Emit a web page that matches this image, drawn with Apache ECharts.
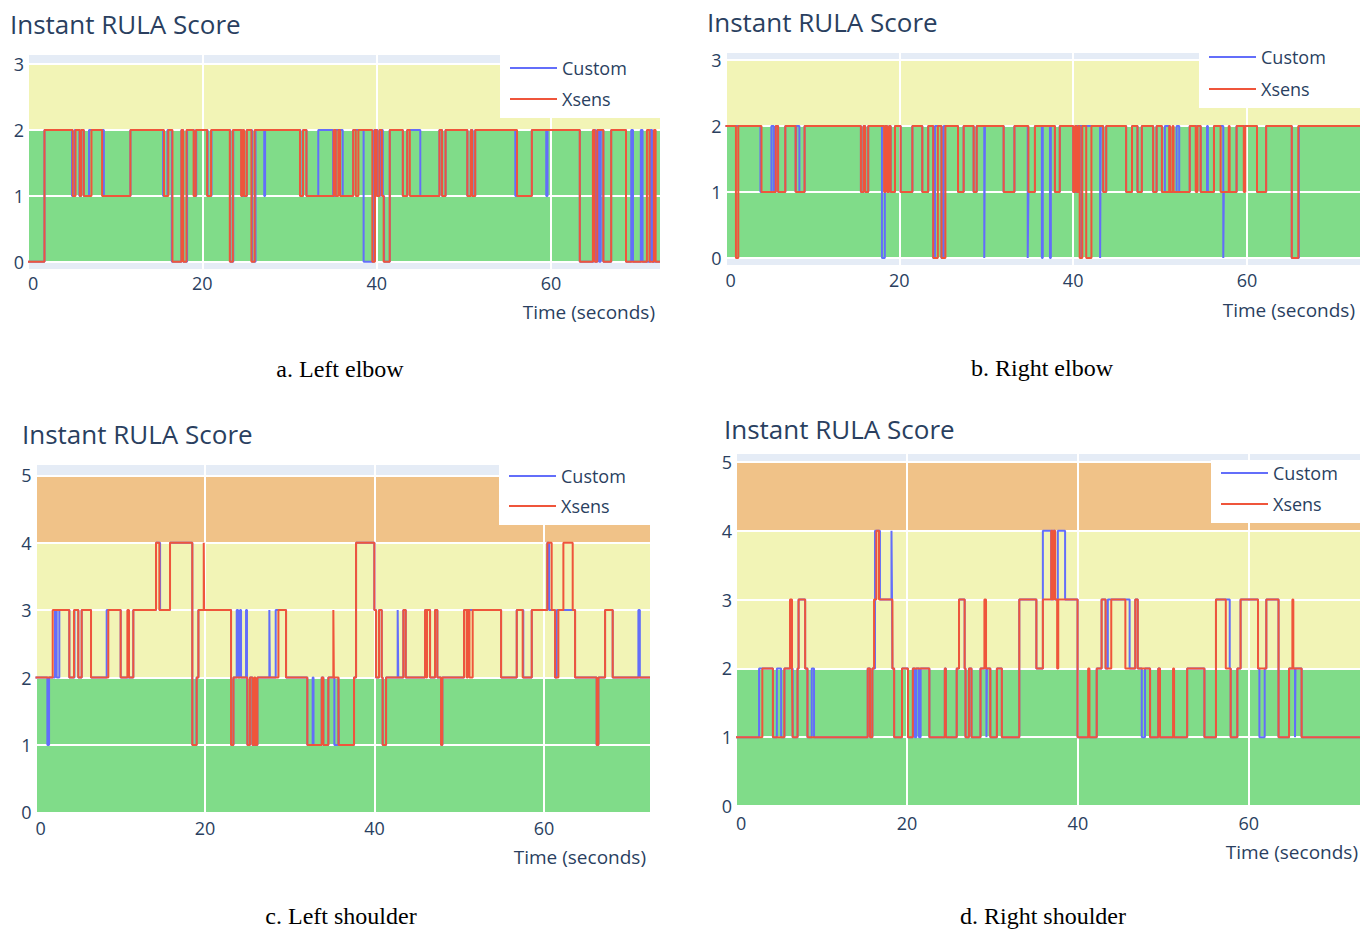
<!DOCTYPE html>
<html>
<head>
<meta charset="utf-8">
<title>Instant RULA Score</title>
<script src="https://cdn.jsdelivr.net/npm/echarts@6/dist/echarts.min.js"></script>
<style>
  html, body { margin: 0; padding: 0; background: #ffffff; }
  #chart { width: 1360px; height: 932px; }
</style>
</head>
<body>
<div id="chart"></div>
<script>
// ---- data (time in seconds, RULA score held until the next change) ----
const timeTicks = [0, 20, 40, 60];
const elbowTicks = [0, 1, 2, 3];
const shoulderTicks = [0, 1, 2, 3, 4, 5];

// risk zones: [low score, high score, zone index]
const elbowZones = [[0, 2, 0], [2, 3, 1]];
const shoulderZones = [[0, 2, 0], [2, 4, 1], [4, 5, 2]];

const seriesNames = ['Custom', 'Xsens'];
const captions = ['a. Left elbow', 'b. Right elbow', 'c. Left shoulder', 'd. Right shoulder'];

const leftElbowCustom = [[0,0],[1.89,2],[5.05,1],[5.35,2],[5.9,1],[6.1,2],[6.4,1],[7.0,2],[8.7,1],[11.75,2],
  [15.5,1],[16.0,2],[16.5,0],[17.6,2],[17.8,0],[18.25,2],[19.05,1],[19.3,2],[20.6,1],[21.05,2],[23.2,0],
  [23.55,2],[24.5,1],[25.1,2],[25.7,0],[26.1,2],[27.1,1],[27.2,2],[31.25,1],[31.55,2],[31.95,1],[33.3,2],
  [35.0,1],[35.3,2],[36.1,1],[37.3,2],[38.5,0],[39.7,2],[40.1,1],[40.4,2],[40.7,1],[40.85,0],[41.5,2],
  [43.0,1],[43.5,2],[45.0,1],[47.2,2],[47.5,1],[47.9,2],[50.4,1],[50.8,2],[51.0,1],[51.3,2],[55.9,1],
  [57.8,2],[59.45,1],[59.6,2],[63.3,0],[64.9,2],[65.1,0],[65.3,2],[65.5,0],[65.7,2],[66.0,0],[66.9,2],
  [68.6,0],[69.2,2],[69.4,0],[70.3,2],[70.5,0],[71.4,2],[71.6,0],[72.5,0]];
const leftElbowXsens = [[0,0],[1.89,2],[5.14,1],[5.45,2],[5.94,1],[6.1,2],[6.4,1],[7.28,2],[8.5,1],[11.75,2],
  [15.6,1],[16.1,2],[16.57,0],[17.6,2],[17.8,0],[18.18,2],[19.0,1],[19.25,2],[20.55,1],[21.0,2],[23.15,0],
  [23.5,2],[24.45,1],[24.6,2],[24.8,1],[25.1,2],[25.63,0],[26.0,2],[31.2,1],[31.55,2],[31.94,1],[35.07,2],
  [35.3,1],[35.6,2],[35.8,1],[37.3,2],[37.6,1],[37.9,2],[39.5,0],[39.8,2],[40.0,1],[40.3,2],[40.6,1],
  [40.8,0],[41.5,2],[43.0,1],[43.5,2],[43.8,1],[47.2,2],[47.5,1],[47.9,2],[50.4,1],[50.8,2],[50.95,1],
  [51.3,2],[56.1,1],[57.8,2],[63.3,0],[64.8,2],[65.0,0],[65.3,2],[66.0,0],[66.9,2],[68.6,0],[71.0,2],
  [71.3,0],[71.8,2],[72.0,0],[72.5,0]];

const rightElbowCustom = [[0,2],[4.02,1],[5.28,2],[5.55,1],[5.78,2],[6.05,1],[6.88,2],[8.07,1],[8.14,2],
  [8.5,1],[9.1,2],[15.58,1],[15.88,2],[16.07,1],[16.42,2],[18.0,0],[18.33,2],[18.6,1],[18.82,2],[19.0,1],
  [19.5,2],[20.15,1],[21.5,2],[22.64,1],[23.32,2],[23.9,0],[24.1,2],[24.85,0],[25.1,2],[26.75,1],[27.4,2],
  [28.55,1],[28.9,2],[29.77,0],[29.85,2],[32.0,1],[33.24,2],[34.77,0],[34.85,1],[35.6,2],[36.4,0],
  [36.5,2],[37.33,0],[37.43,2],[37.9,1],[38.46,2],[40.0,1],[40.4,2],[40.94,0],[41.02,2],[43.1,0],
  [43.17,2],[43.45,1],[43.8,2],[46.09,1],[46.77,2],[47.4,1],[47.9,2],[49.2,1],[49.6,2],[50.21,1],
  [50.55,2],[51.1,1],[51.9,2],[52.2,1],[53.41,2],[54.67,1],[55.4,2],[55.5,1],[56.2,2],[57.27,0],
  [57.33,1],[58.8,2],[61.15,1],[62.2,2],[65.15,0],[65.97,2],[73,2]];
const rightElbowXsens = [[0,2],[1.2,0],[1.47,2],[4.14,1],[5.78,2],[6.05,1],[6.88,2],[8.07,1],[9.1,2],
  [15.58,1],[15.88,2],[16.07,1],[16.42,2],[18.25,1],[18.4,2],[18.6,1],[18.82,2],[19.0,1],[19.5,2],
  [20.15,1],[21.5,2],[22.64,1],[23.32,2],[23.9,0],[24.43,2],[24.85,0],[25.3,2],[26.75,1],[27.4,2],
  [28.55,1],[28.9,2],[32.0,1],[33.24,2],[34.85,1],[35.6,2],[37.9,1],[38.46,2],[40.0,1],[40.2,2],
  [40.4,1],[40.6,2],[40.75,0],[41.05,2],[41.5,0],[42.1,2],[43.45,1],[43.8,2],[46.09,1],[46.77,2],
  [47.4,1],[47.9,2],[49.2,1],[49.6,2],[50.21,1],[51.05,2],[51.15,1],[51.43,2],[51.55,1],[53.41,2],
  [54.1,1],[54.3,2],[54.67,1],[56.2,2],[56.96,1],[57.9,2],[58.0,1],[58.8,2],[59.63,1],[59.8,2],
  [61.15,1],[62.2,2],[65.15,0],[65.9,2],[73,2]];

const leftShoulderCustom = [[0,2],[1.4,1],[1.6,2],[2.3,3],[2.5,2],[2.81,3],[3.99,2],[4.6,3],[5.05,2],
  [5.45,3],[6.55,2],[8.4,3],[10.05,2],[11.54,3],[14.22,4],[14.7,3],[15.87,4],[18.5,1],[19.0,2],[19.22,3],
  [23.07,1],[23.35,2],[23.74,3],[23.9,2],[24.13,3],[24.25,2],[24.84,3],[24.95,2],[25.0,1],[25.3,2],
  [25.6,1],[26.18,2],[27.59,3],[27.65,2],[28.34,3],[29.56,2],[32.07,1],[32.7,2],[32.8,1],[33.77,2],
  [33.96,1],[34.55,2],[35.26,1],[35.73,2],[35.8,1],[37.58,2],[37.82,4],[39.98,3],[40.18,2],[40.53,3],
  [40.85,2],[40.96,1],[41.36,2],[42.73,3],[42.8,2],[43.4,3],[43.68,2],[45.96,3],[46.55,2],[47.14,3],
  [47.41,2],[47.85,1],[48.0,2],[50.56,3],[54.93,2],[56.78,3],[57.55,2],[58.55,3],[60.39,4],[60.6,3],
  [61.3,2],[61.5,3],[63.66,2],[66.21,1],[66.41,2],[67.2,3],[68.1,2],[71.13,3],[71.3,2],[72.5,2]];
const leftShoulderXsens = [[0,2],[2.03,3],[3.99,2],[4.54,3],[5.05,2],[5.45,3],[6.55,2],[8.59,3],[10.05,2],
  [10.84,3],[11.03,2],[11.54,3],[14.22,4],[14.61,3],[15.87,4],[18.5,1],[19.02,2],[19.22,3],[19.85,4],
  [19.9,3],[23.07,1],[23.35,2],[25.0,1],[25.3,2],[25.6,1],[25.8,2],[25.95,1],[26.18,2],[28.66,3],
  [29.56,2],[32.07,1],[33.77,2],[33.96,1],[34.55,2],[35.14,3],[35.2,2],[35.75,1],[37.58,2],[37.82,4],
  [39.98,3],[40.18,2],[40.53,3],[40.85,2],[40.96,1],[41.36,2],[43.4,3],[43.68,2],[45.96,3],[46.1,2],
  [46.2,3],[46.55,2],[47.14,3],[47.41,2],[47.85,1],[48.0,2],[50.56,3],[50.87,2],[51.0,3],[51.2,2],
  [51.58,3],[54.93,2],[56.78,3],[57.48,2],[58.55,3],[60.39,4],[60.9,3],[61.3,2],[61.69,3],[62.28,4],
  [63.38,3],[63.66,2],[66.21,1],[66.41,2],[67.2,3],[68.1,2],[72.5,2]];

const rightShoulderCustom = [[0,1],[2.7,2],[4.32,1],[4.78,2],[5.28,1],[5.66,2],[6.63,1],[7.2,2],[7.32,3],
  [8.09,2],[8.36,1],[8.86,2],[9.13,1],[15.41,2],[15.68,1],[15.95,2],[16.26,4],[16.84,3],[18.19,4],
  [18.25,3],[18.3,2],[18.5,1],[19.42,2],[20.12,1],[20.69,2],[20.9,1],[21.1,2],[21.4,1],[21.6,2],
  [22.62,1],[24.43,2],[24.55,1],[25.82,2],[26.09,3],[26.75,2],[26.85,1],[27.25,2],[27.55,1],[28.6,2],
  [29.3,1],[29.35,2],[29.75,1],[30.52,2],[31.1,1],[33.14,3],[35.14,2],[35.9,4],[36.88,3],[37.0,4],
  [37.3,3],[37.65,4],[38.5,3],[39.96,1],[42.2,2],[42.77,3],[43.24,2],[43.5,3],[46.05,2],[46.71,3],
  [47.0,2],[47.47,1],[47.85,2],[48.44,1],[49.4,2],[49.6,1],[52.78,2],[54.8,1],[56.15,3],[57.76,2],
  [57.87,1],[58.65,2],[59.03,3],[61.07,2],[61.23,1],[61.85,2],[62.04,3],[63.47,1],[64.7,2],[65.4,1],
  [65.45,2],[66.17,1],[73,1]];
const rightShoulderXsens = [[0,1],[3.08,2],[4.32,1],[5.66,2],[6.32,3],[6.55,2],[6.63,1],[7.2,2],[7.32,3],
  [8.09,2],[8.36,1],[15.41,2],[15.68,1],[15.95,2],[16.15,3],[16.42,4],[16.73,3],[18.3,2],[18.5,1],
  [19.42,2],[20.12,1],[20.69,2],[22.62,1],[24.43,2],[24.55,1],[25.82,2],[26.09,3],[26.75,2],[26.85,1],
  [27.25,2],[27.55,1],[28.6,2],[29.06,3],[29.25,2],[29.75,1],[30.52,2],[31.1,1],[33.14,3],[35.14,2],
  [35.9,3],[36.88,4],[37.0,3],[37.19,4],[37.34,3],[37.57,2],[37.7,3],[39.96,1],[41.2,2],[41.35,1],
  [42.2,2],[42.77,3],[43.24,2],[43.9,3],[45.55,2],[46.71,3],[47.0,2],[48.44,1],[49.4,2],[49.6,1],
  [51.13,2],[51.25,1],[52.78,2],[54.8,1],[56.15,3],[57.3,2],[57.87,1],[58.65,2],[59.03,3],[61.07,2],
  [62.04,3],[63.47,1],[64.7,2],[65.09,3],[65.2,2],[66.17,1],[73,1]];

// ---- styling ----
const Blue = '#636EFA';
const Red = '#EF553B';
const Ink = '#2a3f5f';
const PlotBg = '#E5ECF6';
const ZoneColors = ['#80DC89', '#F2F4B6', '#F0C288'];
const Font = 'Open Sans';

// one entry per sub-figure: pixel layout + axis ranges
const panels = [
  { grid: { left: 28, top: 55, width: 632, height: 214 }, xMax: 72.5, yMin: -0.11, yMax: 3.14,
    yTicks: elbowTicks, zones: elbowZones, custom: leftElbowCustom, xsens: leftElbowXsens,
    title: [10, 24], legend: { left: 500, top: 55, gap: 13 }, xName: [655, 312], caption: [340, 369],
    xMargin: 5 },
  { grid: { left: 725.5, top: 53, width: 638, height: 212 }, xMax: 73, yMin: -0.106, yMax: 3.106,
    yTicks: elbowTicks, zones: elbowZones, custom: rightElbowCustom, xsens: rightElbowXsens,
    title: [707, 22], legend: { left: 1199, top: 44, gap: 14 }, xName: [1355, 310], caption: [1042, 368],
    xMargin: 6 },
  { grid: { left: 35.5, top: 465, width: 614.5, height: 347.3 }, xMax: 72.5, yMin: 0, yMax: 5.153,
    yTicks: shoulderTicks, zones: shoulderZones, custom: leftShoulderCustom, xsens: leftShoulderXsens,
    title: [22, 434], legend: { left: 499, top: 463, gap: 12 }, xName: [646, 857], caption: [341, 916],
    xMargin: 7 },
  { grid: { left: 736, top: 454, width: 631.5, height: 352 }, xMax: 73, yMin: 0, yMax: 5.116,
    yTicks: shoulderTicks, zones: shoulderZones, custom: rightShoulderCustom, xsens: rightShoulderXsens,
    title: [724, 429], legend: { left: 1211, top: 460, gap: 13 }, xName: [1358, 852], caption: [1043, 916],
    xMargin: 8 }
];

function renderZone(params, api) {
  var cs = params.coordSys;
  var top = api.coord([0, api.value(1)])[1];
  var bottom = api.coord([0, api.value(0)])[1];
  return {
    type: 'rect',
    shape: { x: cs.x, y: top, width: cs.width, height: bottom - top },
    style: { fill: ZoneColors[api.value(2)] }
  };
}

function textEl(x, y, text, size, family, color, align) {
  return {
    type: 'text', x: x, y: y, silent: true,
    style: {
      text: text, fill: color, fontSize: size, fontFamily: family,
      align: align, textAlign: align, verticalAlign: 'middle', textVerticalAlign: 'middle'
    }
  };
}

var grids = [], xAxes = [], yAxes = [], series = [], legends = [], graphics = [];

panels.forEach(function (p, i) {
  grids.push(Object.assign({ show: true, backgroundColor: PlotBg, borderWidth: 0, z: 0 }, p.grid));

  xAxes.push({
    gridIndex: i, type: 'value', min: 0, max: p.xMax, z: 2,
    axisLine: { show: false },
    axisTick: { show: false, customValues: timeTicks },
    axisLabel: { customValues: timeTicks, color: Ink, fontSize: 18, fontFamily: Font,
      margin: p.xMargin, alignMinLabel: 'left' },
    splitLine: { show: true, lineStyle: { color: '#ffffff', width: 2 } }
  });
  yAxes.push({
    gridIndex: i, type: 'value', min: p.yMin, max: p.yMax, z: 2,
    axisLine: { show: false },
    axisTick: { show: false, customValues: p.yTicks },
    axisLabel: { customValues: p.yTicks, color: Ink, fontSize: 18, fontFamily: Font, margin: 4 },
    splitLine: { show: true, lineStyle: { color: '#ffffff', width: 2 } }
  });

  series.push({
    type: 'custom', name: 'zones' + i, xAxisIndex: i, yAxisIndex: i, z: 1, silent: true,
    renderItem: renderZone, data: p.zones
  });
  series.push({
    type: 'line', name: seriesNames[0], xAxisIndex: i, yAxisIndex: i, z: 3,
    data: p.custom, step: 'end', symbol: 'none',
    lineStyle: { color: Blue, width: 2 }, itemStyle: { color: Blue }
  });
  series.push({
    type: 'line', name: seriesNames[1], xAxisIndex: i, yAxisIndex: i, z: 3,
    data: p.xsens, step: 'end', symbol: 'none',
    lineStyle: { color: Red, width: 2 }, itemStyle: { color: Red }
  });

  graphics.push(textEl(p.title[0], p.title[1], 'Instant RULA Score', 26, Font, Ink, 'left'));
  graphics.push(textEl(p.xName[0], p.xName[1], 'Time (seconds)', 19, Font, Ink, 'right'));
  graphics.push(textEl(p.caption[0], p.caption[1], captions[i], 24,
    '"Liberation Serif", "Times New Roman", serif', '#000000', 'center'));

  legends.push({
    left: p.legend.left, top: p.legend.top, orient: 'vertical',
    backgroundColor: '#ffffff', padding: [4, 40, 10, 10],
    icon: 'rect', itemWidth: 47, itemHeight: 2, itemGap: p.legend.gap, itemTextGap: 14,
    selectedMode: false, data: seriesNames,
    textStyle: { color: Ink, fontSize: 18, fontFamily: Font, lineHeight: 18 }
  });
});

var chart = echarts.init(document.getElementById('chart'), null, { renderer: 'svg' });
chart.setOption({
  animation: false,
  backgroundColor: '#ffffff',
  grid: grids,
  xAxis: xAxes,
  yAxis: yAxes,
  legend: legends,
  series: series,
  graphic: graphics
});
</script>
</body>
</html>
